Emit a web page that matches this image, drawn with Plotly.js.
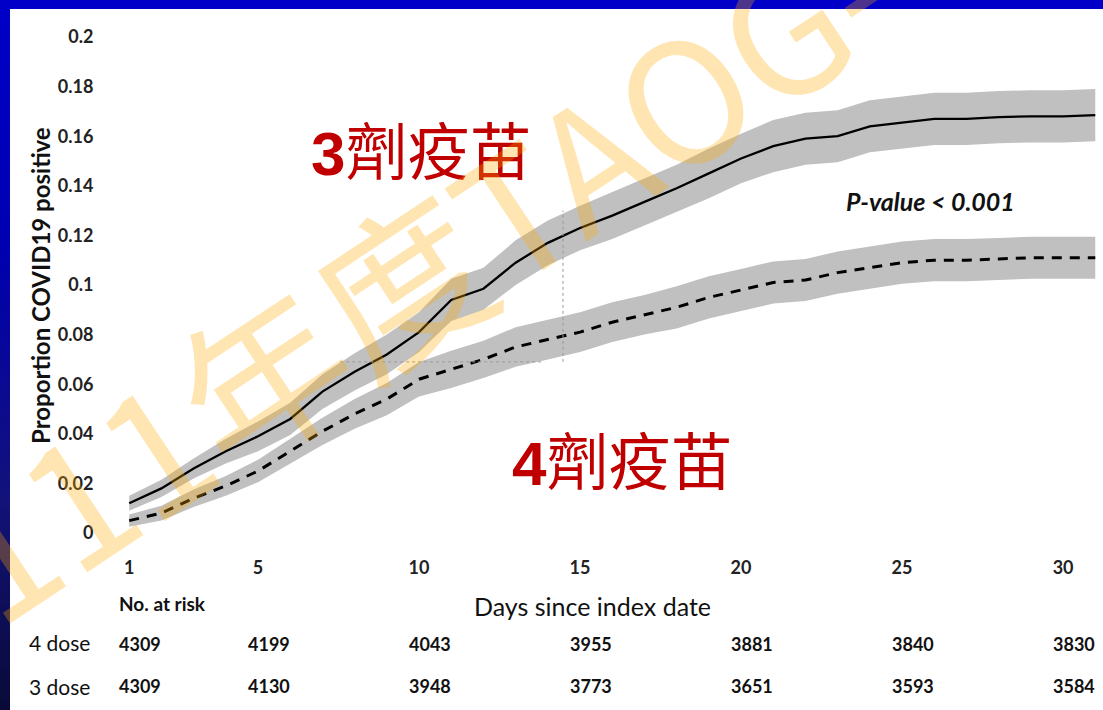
<!DOCTYPE html>
<html>
<head>
<meta charset="utf-8">
<script src="https://cdn.plot.ly/plotly-3.0.1.min.js"></script>
<style>
  html, body { margin: 0; padding: 0; }
  body { width: 1103px; height: 710px; overflow: hidden;
         background: linear-gradient(to bottom, #0000c8 0%, #0000b0 35%, #12127a 70%, #0a0a38 100%); }
  #chart { width: 1103px; height: 710px; }
</style>
</head>
<body>
<div id="chart"></div>
<script>
// ---- data ----
const days = [1,2,3,4,5,6,7,8,9,10,11,12,13,14,15,16,17,18,19,20,21,22,23,24,25,26,27,28,29,30,31];

const dose3 = [0.012,0.018,0.026,0.033,0.039,0.046,0.057,0.065,0.072,0.081,0.094,0.0985,0.109,0.117,0.123,0.128,0.1335,0.139,0.145,0.151,0.156,0.159,0.160,0.164,0.1655,0.167,0.167,0.1677,0.168,0.168,0.1685];
const dose3Lo = [0.009,0.0145,0.022,0.028,0.033,0.0395,0.050,0.0575,0.064,0.073,0.0855,0.090,0.100,0.108,0.114,0.1185,0.124,0.1295,0.135,0.141,0.1455,0.1485,0.1495,0.1535,0.155,0.1565,0.1565,0.1572,0.1575,0.1575,0.158];
const dose3Hi = [0.015,0.0215,0.030,0.038,0.045,0.0525,0.064,0.0725,0.080,0.089,0.1025,0.107,0.118,0.126,0.132,0.1375,0.143,0.1485,0.155,0.161,0.1665,0.1695,0.1705,0.1745,0.176,0.1775,0.1775,0.1782,0.1785,0.1785,0.179];

const dose4 = [0.005,0.008,0.014,0.019,0.025,0.033,0.041,0.048,0.054,0.062,0.066,0.070,0.075,0.078,0.081,0.085,0.088,0.091,0.095,0.098,0.101,0.102,0.105,0.107,0.109,0.110,0.110,0.1105,0.111,0.111,0.111];
const dose4Lo = [0.0025,0.005,0.0105,0.015,0.0205,0.028,0.0355,0.042,0.0475,0.055,0.0585,0.0625,0.067,0.070,0.073,0.077,0.080,0.0825,0.0865,0.0895,0.0925,0.0935,0.0965,0.0985,0.1005,0.1015,0.1015,0.102,0.1025,0.1025,0.1025];
const dose4Hi = [0.0075,0.011,0.0175,0.023,0.0295,0.038,0.0465,0.054,0.0605,0.069,0.0735,0.0775,0.083,0.086,0.089,0.093,0.096,0.0995,0.1035,0.1065,0.1095,0.1105,0.1135,0.1155,0.1175,0.1185,0.1185,0.119,0.1195,0.1195,0.1195];

const xTicks = [1,5,10,15,20,25,30];
const yTicks = [0,0.02,0.04,0.06,0.08,0.1,0.12,0.14,0.16,0.18,0.2];
const yTickText = ['0','0.02','0.04','0.06','0.08','0.1','0.12','0.14','0.16','0.18','0.2'];

const riskDays = [1,5,10,15,20,25,30];
const risk4 = [4309,4199,4043,3955,3881,3840,3830];
const risk3 = [4309,4130,3948,3773,3651,3593,3584];

// faint dotted reference lines in original figure
const refH = {x0: 7.55, x1: 13.85, y: 0.069};
const refV = {x: 14.47, y0: 0.069, y1: 0.130};

// ---- layout helpers (pixel -> paper) ----
const L = 120, T = 37, W = 983, H = 496;
const px = v => (v - L) / W;
const py = v => (T + H - v) / H;

const band = '#c0c0c0';
const traces = [
  {x: days, y: dose3Lo, mode: 'lines', line: {width: 0}, hoverinfo: 'skip', showlegend: false},
  {x: days, y: dose3Hi, mode: 'lines', line: {width: 0}, fill: 'tonexty', fillcolor: band, hoverinfo: 'skip', showlegend: false},
  {x: days, y: dose4Lo, mode: 'lines', line: {width: 0}, hoverinfo: 'skip', showlegend: false},
  {x: days, y: dose4Hi, mode: 'lines', line: {width: 0}, fill: 'tonexty', fillcolor: band, hoverinfo: 'skip', showlegend: false},
  {x: days, y: dose3, mode: 'lines', name: '3 dose', line: {color: '#000', width: 2.3}, showlegend: false},
  {x: days, y: dose4, mode: 'lines', name: '4 dose', line: {color: '#000', width: 3, dash: '10px,8px'}, showlegend: false}
];

const tickFont = {family: 'Lato, "Open Sans", sans-serif', size: 18, color: '#222', weight: 'bold'};
const annotations = [];

// at-risk table
annotations.push({xref: 'paper', yref: 'paper', x: px(117), y: py(603), xanchor: 'left', yanchor: 'middle', showarrow: false,
  text: 'No. at risk', font: {family: 'Lato, sans-serif', size: 19, color: '#111', weight: 'bold'}});
annotations.push({xref: 'paper', yref: 'paper', x: px(27), y: py(642), xanchor: 'left', yanchor: 'middle', showarrow: false,
  text: '4 dose', font: {family: 'Lato, sans-serif', size: 21, color: '#111'}});
annotations.push({xref: 'paper', yref: 'paper', x: px(27), y: py(686), xanchor: 'left', yanchor: 'middle', showarrow: false,
  text: '3 dose', font: {family: 'Lato, sans-serif', size: 21, color: '#111'}});
riskDays.forEach((d, i) => {
  annotations.push({xref: 'x', yref: 'paper', x: d, xshift: -12, y: py(644), xanchor: 'left', yanchor: 'middle', showarrow: false,
    text: String(risk4[i]), font: {family: 'Lato, sans-serif', size: 18, color: '#111', weight: 'bold'}});
  annotations.push({xref: 'x', yref: 'paper', x: d, xshift: -12, y: py(686), xanchor: 'left', yanchor: 'middle', showarrow: false,
    text: String(risk3[i]), font: {family: 'Lato, sans-serif', size: 18, color: '#111', weight: 'bold'}});
});

// axis titles
annotations.push({xref: 'paper', yref: 'paper', x: px(592), y: py(606), xanchor: 'center', yanchor: 'middle', showarrow: false,
  text: 'Days since index date', font: {family: 'Lato, sans-serif', size: 25, color: '#111'}});
annotations.push({xref: 'paper', yref: 'paper', x: px(40), y: py(286), xanchor: 'center', yanchor: 'middle', showarrow: false, textangle: -90,
  text: 'Proportion COVID19 positive', font: {family: 'Lato, sans-serif', size: 24, color: '#111', weight: 'bold'}});

// group labels
const cjk = '"Liberation Sans", "Noto Sans CJK TC", sans-serif';
annotations.push({xref: 'paper', yref: 'paper', x: px(421), y: py(154), xanchor: 'center', yanchor: 'middle', showarrow: false,
  text: '<b>3</b>劑疫苗', font: {family: cjk, size: 62, color: '#c00000'}});
annotations.push({xref: 'paper', yref: 'paper', x: px(622), y: py(463), xanchor: 'center', yanchor: 'middle', showarrow: false,
  text: '<b>4</b>劑疫苗', font: {family: cjk, size: 62, color: '#c00000'}});
annotations.push({xref: 'paper', yref: 'paper', x: px(930), y: py(201), xanchor: 'center', yanchor: 'middle', showarrow: false,
  text: '<i>P-value &lt; 0.001</i>', font: {family: 'Lato, sans-serif', size: 25, color: '#111', weight: 'bold'}});

// watermark
annotations.push({xref: 'paper', yref: 'paper', x: px(416), y: py(267), xanchor: 'center', yanchor: 'middle', showarrow: false, textangle: -33.5,
  text: '111年度TAOG-', font: {family: '"Noto Sans CJK TC", sans-serif', size: 167, color: 'rgba(255,170,0,0.3)'}});

const shapes = [
  {type: 'rect', xref: 'paper', yref: 'paper', x0: px(10), x1: px(1110), y0: py(720), y1: py(9), fillcolor: '#ffffff', line: {width: 0}, layer: 'below'},
  {type: 'line', xref: 'x', yref: 'y', x0: refH.x0, x1: refH.x1, y0: refH.y, y1: refH.y, line: {color: '#9a9a9a', width: 1, dash: 'dot'}},
  {type: 'line', xref: 'x', yref: 'y', x0: refV.x, x1: refV.x, y0: refV.y0, y1: refV.y1, line: {color: '#9a9a9a', width: 1, dash: 'dot'}}
];

const layout = {
  width: 1103, height: 710,
  margin: {l: L, r: 1103 - L - W, t: T, b: 710 - T - H, pad: 0},
  paper_bgcolor: 'rgba(0,0,0,0)',
  plot_bgcolor: 'rgba(0,0,0,0)',
  showlegend: false,
  xaxis: {range: [0.714, 31.24], tickvals: xTicks, ticktext: xTicks.map(String), showgrid: false, zeroline: false, showline: false,
          ticks: 'outside', ticklen: 18, tickcolor: 'rgba(0,0,0,0)', tickfont: tickFont, fixedrange: true},
  yaxis: {range: [0, 0.2], tickvals: yTicks, ticktext: yTickText, showgrid: false, zeroline: false, showline: false,
          ticks: 'outside', ticklen: 22, tickcolor: 'rgba(0,0,0,0)', tickfont: tickFont, fixedrange: true},
  annotations: annotations,
  shapes: shapes,
  hovermode: false
};

Plotly.newPlot('chart', traces, layout, {displayModeBar: false, staticPlot: true});
</script>
</body>
</html>
